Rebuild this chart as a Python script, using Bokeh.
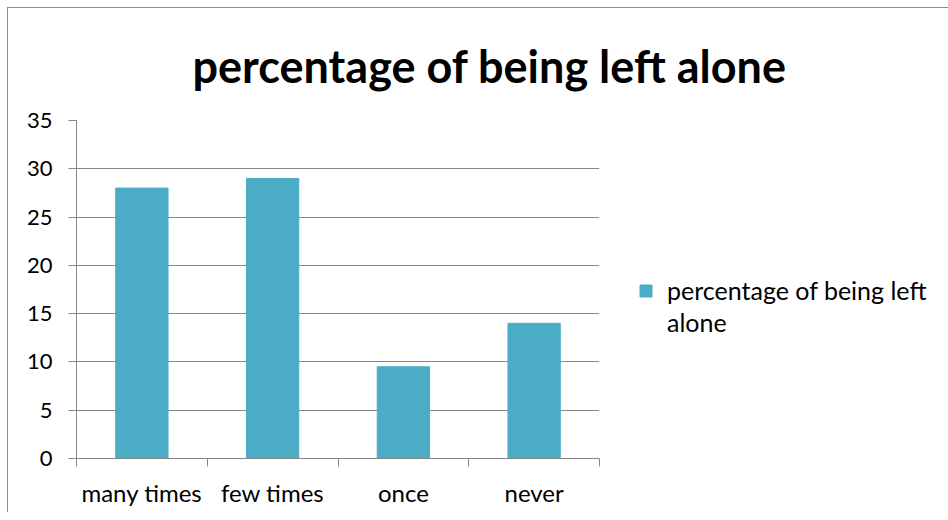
from bokeh.plotting import figure
from bokeh.models import Range1d, FixedTicker, Title, Legend, LegendItem
from bokeh.embed import file_html
from bokeh.resources import INLINE

categories = ["many times", "few times", "once", "never"]
values = [28, 29, 9.5, 14]
y_ticks = [0, 5, 10, 15, 20, 25, 30, 35]
legend_lines = ["percentage of being left", "alone"]
chart_title = "percentage of being left alone"

BAR = "#4BACC6"
GRID = "#878787"
FONT = "Lato"

centers = [i + 0.5 for i in range(len(categories))]
bounds = list(range(len(categories) + 1))

p = figure(frame_width=523, frame_height=338, output_backend="svg", toolbar_location=None,
           x_range=Range1d(0, len(categories)), y_range=Range1d(y_ticks[0], y_ticks[-1]),
           min_border_left=68, min_border_right=349, min_border_top=112, min_border_bottom=54)
p.outline_line_color = None
p.background_fill_color = "white"
p.border_fill_color = "white"
p.styles = {"margin-left": "7px", "margin-top": "7px",
            "border-top": "1px solid #8c8c8c", "border-left": "1px solid #8c8c8c"}

r = p.vbar(x=centers, top=values, width=0.4, bottom=0, fill_color=BAR, line_color=BAR)
# invisible companion renderer so that the legend's second line carries no swatch
r_blank = p.vbar(x=[], top=[], width=0.4, fill_alpha=0, line_alpha=0)

p.xgrid.visible = False
p.ygrid.grid_line_color = GRID
p.ygrid.grid_line_width = 1

p.yaxis.ticker = FixedTicker(ticks=y_ticks)
p.yaxis.axis_line_color = GRID
p.yaxis.major_tick_line_color = GRID
p.yaxis.major_tick_out = 8
p.yaxis.major_tick_in = 0
p.yaxis.minor_tick_line_color = None
p.yaxis.major_label_text_font = FONT
p.yaxis.major_label_text_font_size = "22px"
p.yaxis.major_label_text_color = "black"
p.yaxis.major_label_standoff = 16

p.xaxis.ticker = FixedTicker(ticks=centers, minor_ticks=bounds)
p.xaxis.major_label_overrides = {c: lab for c, lab in zip(centers, categories)}
p.xaxis.axis_line_color = GRID
p.xaxis.major_tick_out = 0
p.xaxis.major_tick_in = 0
p.xaxis.major_tick_line_color = None
p.xaxis.minor_tick_out = 8
p.xaxis.minor_tick_in = 0
p.xaxis.minor_tick_line_color = GRID
p.xaxis.major_label_text_font = FONT
p.xaxis.major_label_text_font_size = "24px"
p.xaxis.major_label_text_color = "black"
p.xaxis.major_label_standoff = 11

t = Title(text=chart_title, align="left", offset=116, standoff=56,
          text_font=FONT, text_font_size="45px", text_font_style="bold", text_color="black")
p.add_layout(t, "above")

legend = Legend(items=[LegendItem(label=legend_lines[0], renderers=[r]),
                       LegendItem(label=legend_lines[1], renderers=[r_blank])],
                location=(39, 121), border_line_color=None, background_fill_alpha=0,
                label_text_font=FONT, label_text_font_size="25px", label_text_color="black",
                glyph_width=15, glyph_height=15, padding=0, margin=0, spacing=2,
                label_standoff=14)
p.add_layout(legend, "right")

open("out.html", "w").write(file_html(p, INLINE))
